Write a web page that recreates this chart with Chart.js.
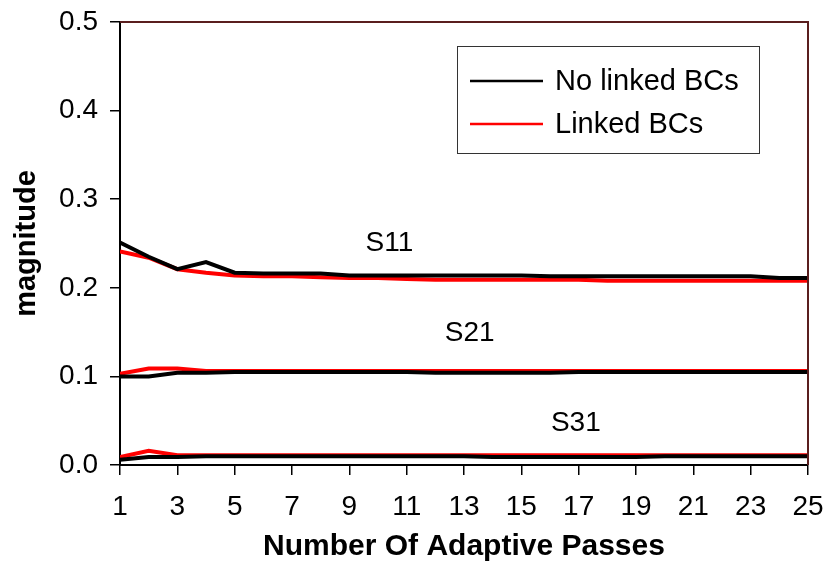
<!DOCTYPE html>
<html>
<head>
<meta charset="utf-8">
<script src="https://cdn.jsdelivr.net/npm/chart.js@4/dist/chart.umd.min.js"></script>
<style>
  html, body { margin: 0; padding: 0; background: #ffffff; }
  #wrap { width: 828px; height: 567px; }
</style>
</head>
<body>
<div id="wrap"><canvas id="chart" width="828" height="567"></canvas></div>
<script>
// Adaptive pass number (x axis)
const passes = [1, 2, 3, 4, 5, 6, 7, 8, 9, 10, 11, 12, 13, 14, 15, 16, 17, 18, 19, 20, 21, 22, 23, 24, 25];

// |S| magnitudes per pass, without linked boundary conditions
const s11NoLinked = [0.251, 0.235, 0.221, 0.229, 0.217, 0.216, 0.216, 0.216, 0.214, 0.214, 0.214, 0.214, 0.214, 0.214, 0.214, 0.213, 0.213, 0.213, 0.213, 0.213, 0.213, 0.213, 0.213, 0.211, 0.211];
const s21NoLinked = [0.100, 0.100, 0.104, 0.104, 0.105, 0.105, 0.105, 0.105, 0.105, 0.105, 0.105, 0.104, 0.104, 0.104, 0.104, 0.104, 0.105, 0.105, 0.105, 0.105, 0.105, 0.105, 0.105, 0.105, 0.105];
const s31NoLinked = [0.006, 0.009, 0.009, 0.010, 0.010, 0.010, 0.010, 0.010, 0.010, 0.010, 0.010, 0.010, 0.010, 0.009, 0.009, 0.009, 0.009, 0.009, 0.009, 0.010, 0.010, 0.010, 0.010, 0.010, 0.010];

// |S| magnitudes per pass, with linked boundary conditions
const s11Linked = [0.241, 0.234, 0.221, 0.217, 0.214, 0.213, 0.213, 0.212, 0.211, 0.211, 0.210, 0.209, 0.209, 0.209, 0.209, 0.209, 0.209, 0.208, 0.208, 0.208, 0.208, 0.208, 0.208, 0.208, 0.208];
const s21Linked = [0.103, 0.109, 0.109, 0.106, 0.106, 0.106, 0.106, 0.106, 0.106, 0.106, 0.106, 0.106, 0.106, 0.106, 0.106, 0.106, 0.106, 0.106, 0.106, 0.106, 0.106, 0.106, 0.106, 0.106, 0.106];
const s31Linked = [0.009, 0.016, 0.011, 0.011, 0.011, 0.011, 0.011, 0.011, 0.011, 0.011, 0.011, 0.011, 0.011, 0.011, 0.011, 0.011, 0.011, 0.011, 0.011, 0.011, 0.011, 0.011, 0.011, 0.011, 0.011];

// Legend entries and curve labels
const seriesNames = ['No linked BCs', 'Linked BCs'];
const curveLabels = ['S11', 'S21', 'S31'];
const curveLabelAt = [[10.4, 0.250], [13.2, 0.149], [16.9, 0.047]];

const FONT = '"Liberation Sans", Arial, Helvetica, sans-serif';
const BLACK = '#000000';
const RED = '#ff0000';

function pts(values) {
  return passes.map((p, i) => ({ x: p, y: values[i] }));
}

function line(label, values, color) {
  return {
    label: label,
    data: pts(values),
    borderColor: color,
    backgroundColor: color,
    borderWidth: 4,
    pointRadius: 0,
    tension: 0,
    fill: false
  };
}

// Frame on the top and right of the plot area, curve labels and the boxed legend
const decorations = {
  id: 'decorations',
  afterDatasetsDraw(chart) {
    const { ctx, chartArea: a, scales } = chart;
    ctx.save();
    ctx.strokeStyle = '#5a1e1e';
    ctx.lineWidth = 2;
    ctx.beginPath();
    ctx.moveTo(a.left, a.top);
    ctx.lineTo(a.right, a.top);
    ctx.lineTo(a.right, a.bottom);
    ctx.stroke();

    ctx.fillStyle = '#000';
    ctx.font = '28px ' + FONT;
    ctx.textAlign = 'center';
    ctx.textBaseline = 'middle';
    curveLabels.forEach((t, i) => {
      ctx.fillText(t, scales.x.getPixelForValue(curveLabelAt[i][0]), scales.y.getPixelForValue(curveLabelAt[i][1]));
    });

    // legend box
    const bx = 457, by = 46, bw = 302, bh = 107;
    ctx.fillStyle = '#fff';
    ctx.fillRect(bx, by, bw, bh);
    ctx.strokeStyle = '#333';
    ctx.lineWidth = 1;
    ctx.strokeRect(bx + 0.5, by + 0.5, bw, bh);
    const colors = [BLACK, RED];
    const rows = [81, 124];
    ctx.font = '29px ' + FONT;
    ctx.textAlign = 'left';
    seriesNames.forEach((name, i) => {
      ctx.strokeStyle = colors[i];
      ctx.lineWidth = 2.5;
      ctx.beginPath();
      ctx.moveTo(470, rows[i]);
      ctx.lineTo(543, rows[i]);
      ctx.stroke();
      ctx.fillStyle = '#000';
      ctx.fillText(name, 555, rows[i] + 1);
    });
    ctx.restore();
  }
};

new Chart(document.getElementById('chart'), {
  type: 'line',
  data: {
    datasets: [
      line(seriesNames[0] + ' S11', s11NoLinked, BLACK),
      line(seriesNames[0] + ' S21', s21NoLinked, BLACK),
      line(seriesNames[0] + ' S31', s31NoLinked, BLACK),
      line(seriesNames[1] + ' S11', s11Linked, RED),
      line(seriesNames[1] + ' S21', s21Linked, RED),
      line(seriesNames[1] + ' S31', s31Linked, RED)
    ]
  },
  options: {
    responsive: false,
    animation: false,
    devicePixelRatio: 1,
    layout: { padding: { top: 22, right: 20, bottom: 0, left: 0 } },
    plugins: {
      legend: { display: false },
      tooltip: { enabled: false }
    },
    scales: {
      x: {
        type: 'linear',
        min: 1,
        max: 25,
        afterFit(scale) {
          scale.height = 102;
          scale.paddingLeft = 0;
          scale.paddingRight = 0;
        },
        ticks: {
          stepSize: 2,
          color: '#000',
          font: { family: FONT, size: 28 },
          padding: 15,
          maxRotation: 0
        },
        grid: { drawOnChartArea: false, drawTicks: true, tickLength: 10, color: '#000', lineWidth: 1.5 },
        border: { color: '#000', width: 2 },
        title: {
          display: true,
          text: 'Number Of Adaptive Passes',
          color: '#000',
          font: { family: FONT, size: 30, weight: 'bold' },
          padding: { top: 0, bottom: 2 }
        }
      },
      y: {
        min: 0,
        max: 0.5,
        afterFit(scale) {
          scale.width = 120;
          scale.paddingTop = 0;
          scale.paddingBottom = 0;
        },
        ticks: {
          stepSize: 0.1,
          color: '#000',
          font: { family: FONT, size: 28 },
          padding: 12,
          callback: v => v.toFixed(1)
        },
        grid: { drawOnChartArea: false, drawTicks: true, tickLength: 10, color: '#000', lineWidth: 1.5 },
        border: { color: '#000', width: 2 },
        title: {
          display: true,
          text: 'magnitude',
          color: '#000',
          font: { family: FONT, size: 29, weight: 'bold' },
          padding: { top: 10, bottom: 0 }
        }
      }
    }
  },
  plugins: [decorations]
});
</script>
</body>
</html>
